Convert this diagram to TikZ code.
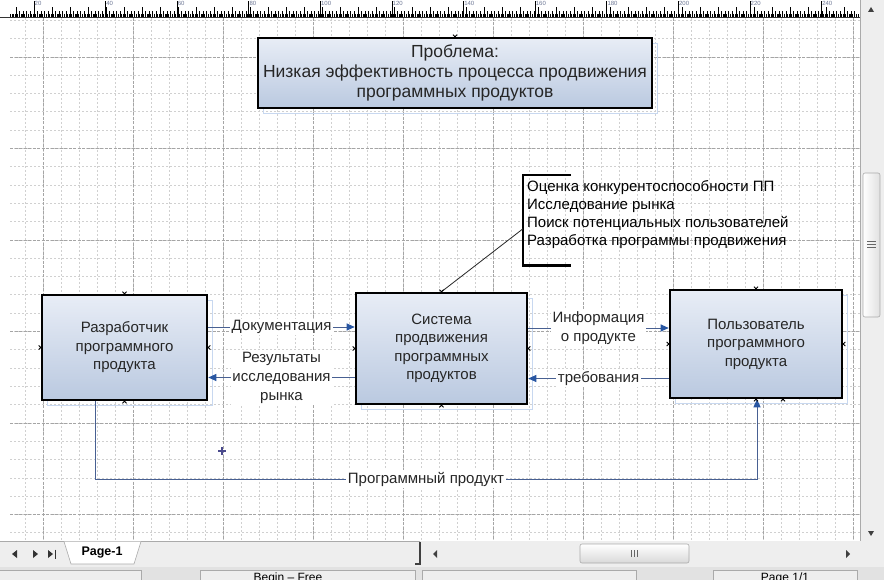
\documentclass[tikz,border=0pt]{standalone}
\usepackage{fontspec}
\setmainfont{Liberation Sans}
\usetikzlibrary{arrows.meta,calc,shadows}

\definecolor{boxtop}{RGB}{232,237,246}
\definecolor{boxbot}{RGB}{186,201,224}
\definecolor{wire}{RGB}{72,96,146}
\definecolor{tip}{RGB}{40,86,162}
\definecolor{gridminor}{RGB}{208,208,208}
\definecolor{gridmajor}{RGB}{165,165,165}
\definecolor{chrome}{RGB}{238,238,238}
\definecolor{chromeline}{RGB}{170,170,170}
\definecolor{pin}{RGB}{92,92,176}
\definecolor{halo}{RGB}{200,216,240}
\definecolor{rulernum}{RGB}{110,120,150}

\tikzset{
  minorgrid/.style={gridminor, line width=0.6pt, dash pattern=on 2pt off 2pt},
  majorgrid/.style={gridmajor, line width=0.7pt, dash pattern=on 3pt off 1.5pt},
  block/.style={draw=black, line width=2.6pt, top color=boxtop, bottom color=boxbot,
    align=center, font=\fontsize{15}{18.5}\selectfont, inner sep=2pt, text=black!85,
    general shadow={draw=halo, fill=none, line width=0.8pt, shadow xshift=5pt, shadow yshift=-5pt}},
  flow/.style={wire, line width=1pt, -{Triangle[length=8pt,width=7pt,color=tip]}},
  flowlabel/.style={fill=white, text=black!85, inner sep=1.5pt, align=center, font=\fontsize{15}{19}\selectfont},
  notetext/.style={align=left, inner sep=0pt, font=\fontsize{15}{18}\selectfont},
  bracketline/.style={black, line width=2.6pt},
  leader/.style={black!85, line width=0.8pt},
  pinx/.pic={\draw[pin, line width=0.8pt] (-2,-2) -- (2,2) (-2,2) -- (2,-2);},
  pinplus/.pic={\draw[pin!80!black, line width=1.6pt] (-4,0) -- (4,0) (0,-4) -- (0,4);},
  chromebox/.style={draw=chromeline, line width=0.6pt},
  tick/.style={black, line width=0.7pt},
}

\begin{document}
\begin{tikzpicture}[x=1pt,y=-1pt]
\useasboundingbox (0,0) rectangle (884,580);
\clip (0,0) rectangle (884,580);
\fill[white] (0,0) rectangle (884,580);

% drawing-page grid
\foreach \gx in {25,43,...,853} \draw[minorgrid] (\gx,18) -- (\gx,540);
\foreach \k in {0,...,28} \draw[minorgrid] (10,{20.3+18.3*\k}) -- (860,{20.3+18.3*\k});
\foreach \gx in {43,133,...,853} \draw[majorgrid] (\gx,18) -- (\gx,540);
\foreach \k in {2,7,12,17,22,27} \draw[majorgrid] (10,{20.3+18.3*\k}) -- (860,{20.3+18.3*\k});

% horizontal ruler
\fill[white] (0,0) rectangle (860,17);
\foreach \tx in {10,11.8,...,858} \draw[tick, line width=0.45pt] (\tx,17) -- (\tx,14);
\foreach \tx in {16,19.6,...,858} \draw[tick] (\tx,17) -- (\tx,11.5);
\foreach \tx in {16,34,...,858} \draw[tick, line width=0.9pt] (\tx,17) -- (\tx,7);
\foreach \tx/\lab in {34/20,105.6/40,177.2/60,248.8/80,320.4/100,392/120,463.6/140,535.2/160,606.8/180,678.4/200,750/220,821.6/240}{
  \draw[tick, line width=0.9pt] (\tx,17) -- (\tx,1);
  \node[anchor=north west, inner sep=0.5pt, font=\fontsize{6}{6}\selectfont, rulernum] at (\tx,0.5) {\lab};
}
\draw[black!80, line width=1pt] (0,17.5) -- (860,17.5);

% vertical scroll bar
\fill[chrome] (860,0) rectangle (884,541);
\draw[chromeline, line width=0.5pt] (860.5,0) -- (860.5,541);
\fill[black!75] (868,12) -- (874,12) -- (871,7) -- cycle;
\fill[black!75] (868,531) -- (874,531) -- (871,536) -- cycle;
\draw[chromebox, rounded corners=2pt, top color=white, bottom color=black!12, shading angle=90] (863,173) rectangle (880,317);
\foreach \gy in {241,244,247} \draw[black!60, line width=0.8pt] (867,\gy) -- (876,\gy);

% tab row and horizontal scroll bar
\fill[chrome] (0,541) rectangle (884,567);
\draw[chromeline, line width=0.6pt] (0,541.5) -- (420,541.5);
\fill[black!80] (17,550) -- (17,558) -- (12,554) -- cycle;
\fill[black!80] (33,550) -- (33,558) -- (38,554) -- cycle;
\fill[black!80] (48,550) -- (48,558) -- (53,554) -- cycle;
\draw[black!80, line width=1pt] (55,549.5) -- (55,558.5);
\draw[chromeline, fill=white, line width=0.6pt] (64,541.5) -- (71,564) -- (134,564) -- (141,541.5);
\node[font=\bfseries\fontsize{12.5}{14}\selectfont, inner sep=0pt] (tab) at (102,553) {Page-1};
\draw[black!75, line width=1.1pt] (420,541.5) -- (420,564) -- (415,564);
\fill[black!75] (437,550) -- (437,558) -- (433,554) -- cycle;
\fill[black!75] (846,550) -- (846,558) -- (850,554) -- cycle;
\draw[chromebox, rounded corners=2pt, top color=white, bottom color=black!15] (580,544) rectangle (689,563);
\foreach \gx in {631,634,637} \draw[black!60, line width=0.8pt] (\gx,550) -- (\gx,557);

% status bar
\fill[chrome!95!black] (0,567) rectangle (884,580);
\draw[chromebox, fill=chrome] (-2,570) rectangle (141,590);
\draw[chromebox, fill=chrome] (200,570) rectangle (415,590);
\draw[chromebox, fill=chrome] (422,570) rectangle (636,590);
\draw[chromebox, fill=chrome] (713,570) rectangle (857,590);
\node[anchor=base, font=\fontsize{12}{14}\selectfont, inner sep=0pt] (st1) at (288,581) {Begin – Free};
\node[anchor=base, font=\fontsize{12}{14}\selectfont, inner sep=0pt] (st2) at (785,581) {Page 1/1};

% problem statement
\node[block, general shadow={draw=none, fill=none}, minimum width=394pt, minimum height=70pt,
  font=\fontsize{17.5}{20}\selectfont] (prob) at (455,73)
  {Проблема:\\Низкая эффективность процесса продвижения\\программных продуктов};

% main blocks
\node[block, minimum width=165pt, minimum height=105pt] (dev) at (124.5,347.5)
  {Разработчик\\программного\\продукта};
\node[block, minimum width=171pt, minimum height=111pt] (sys) at (441.5,348.5)
  {Система\\продвижения\\программных\\продуктов};
\node[block, minimum width=172pt, minimum height=108pt] (user) at (756,344)
  {Пользователь\\программного\\продукта};

% annotation with bracket
\node[notetext, anchor=north west] (note) at (527,180)
  {Оценка конкурентоспособности ПП\\Исследование рынка\\Поиск потенциальных пользователей\\Разработка программы продвижения};
\draw[bracketline] ([shift={(44,-5)}]note.north west) -- ([shift={(-4,-5)}]note.north west)
  -- ([shift={(-4,17)}]note.south west) -- ([shift={(44,17)}]note.south west);
\draw[leader] (sys.north) -- ([shift={(-4,14.5)}]note.west);

% flows
\draw[flow] ([yshift=20.5pt]dev.east) -- node[flowlabel]{Документация} ([yshift=20.5pt]dev.east -| sys.west);
\draw[flow] ([yshift=-30pt]dev.east -| sys.west) -- node[flowlabel]{Результаты\\исследования\\рынка} ([yshift=-30pt]dev.east);
\draw[flow] ([yshift=20.5pt]sys.east) -- node[flowlabel]{Информация\\о продукте} ([yshift=20.5pt]sys.east -| user.west);
\draw[flow] ([yshift=-30pt]sys.east -| user.west) -- node[flowlabel]{требования} ([yshift=-30pt]sys.east);
\coordinate (prodrow) at (0,479);
\draw[flow] ([xshift=-29.5pt]dev.south) -- ([xshift=-29.5pt]dev.south |- prodrow)
  -- node[flowlabel]{Программный продукт} ([xshift=1pt]user.south |- prodrow) -- ([xshift=1pt]user.south);

% connection points
\foreach \nd in {dev,sys,user} {
  \pic at (\nd.north) {pinx};
  \pic at (\nd.south) {pinx};
  \pic at (\nd.east) {pinx};
  \pic at (\nd.west) {pinx};
}
\pic at (prob.north) {pinx};
\pic at ([xshift=27pt]user.south) {pinx};
\coordinate (cursor) at (222,451);
\pic at (cursor) {pinplus};
\end{tikzpicture}
\end{document}
